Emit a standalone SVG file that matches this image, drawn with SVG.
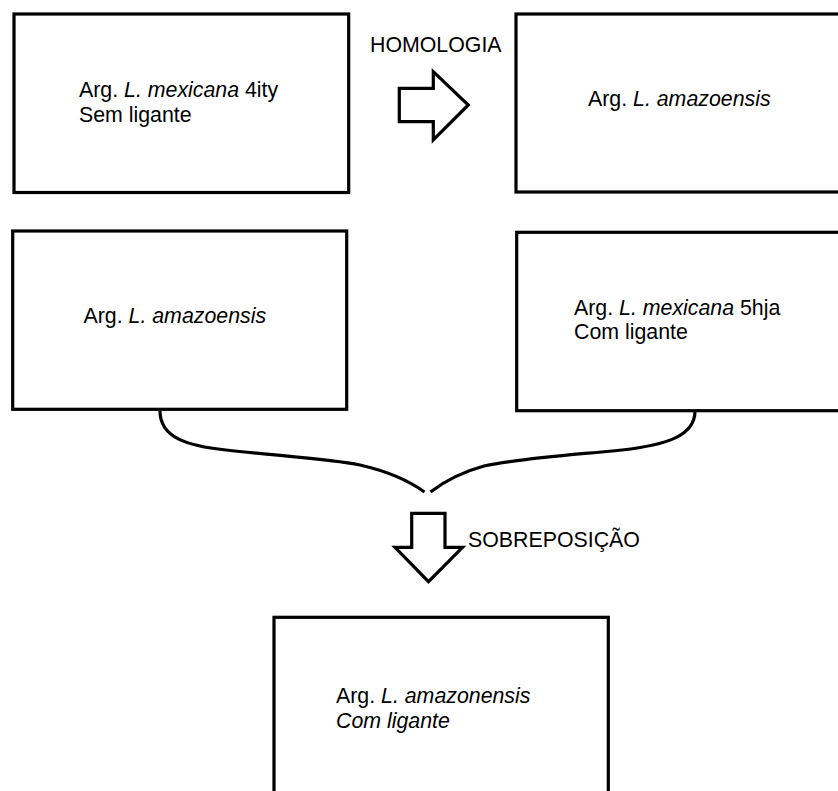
<svg xmlns="http://www.w3.org/2000/svg" width="838" height="791" viewBox="0 0 838 791">
<style>
.box{fill:#fff;stroke:#000;stroke-width:3.2}
.t{font-family:"Liberation Sans",Arial,sans-serif;font-size:21.33px;fill:#000}
.i{font-style:italic}
.conn{fill:none;stroke:#000;stroke-width:3.2;stroke-linejoin:miter}
</style>
<rect width="838" height="791" fill="#fff"/>
<g id="node-mexicana-4ity">
<rect class="box" x="14" y="14" width="334.7" height="178.5"/>
<text class="t" x="79" y="97">Arg. <tspan class="i">L. mexicana</tspan> 4ity</text>
<text class="t" x="79" y="121.5">Sem ligante</text>
</g>
<g id="node-amazoensis-top">
<rect class="box" x="516" y="14" width="340" height="178"/>
<text class="t" x="588" y="105.5">Arg. <tspan class="i">L. amazoensis</tspan></text>
</g>
<g id="node-amazoensis-mid">
<rect class="box" x="12.7" y="231" width="334" height="178.3"/>
<text class="t" x="83.5" y="322.5">Arg. <tspan class="i">L. amazoensis</tspan></text>
</g>
<g id="node-mexicana-5hja">
<rect class="box" x="516.7" y="232.3" width="340" height="178.4"/>
<text class="t" x="574" y="314.5">Arg. <tspan class="i">L. mexicana</tspan> 5hja</text>
<text class="t" x="574" y="339">Com ligante</text>
</g>
<g id="node-result">
<rect class="box" x="274" y="617.3" width="334.3" height="200"/>
<text class="t" x="336" y="703.3">Arg. <tspan class="i">L. amazonensis</tspan></text>
<text class="t i" x="336" y="728">Com ligante</text>
</g>
<g id="connectors">
<path class="conn" d="M399.3,88.3 H433.3 V71.7 L468.3,105 L433.3,140 V121.7 H399.3 Z"/>
<path class="conn" d="M160,411 C160,438 188,446 226,450 C 280,456 330,459 360,465 C 386,471 408,480 424.5,492"/>
<path class="conn" d="M430.5,492 C 446,480 462,472 484,466 C 522,458 572,455 622,450 C 664,445 695,437 695,411"/>
<path class="conn" d="M411.7,513.3 H445 V547.3 H462.5 L428.5,581.7 L395,547.3 H411.7 Z"/>
<text class="t" x="370" y="51.5">HOMOLOGIA</text>
<text class="t" x="468" y="547">SOBREPOSIÇÃO</text>
</g>
</svg>
